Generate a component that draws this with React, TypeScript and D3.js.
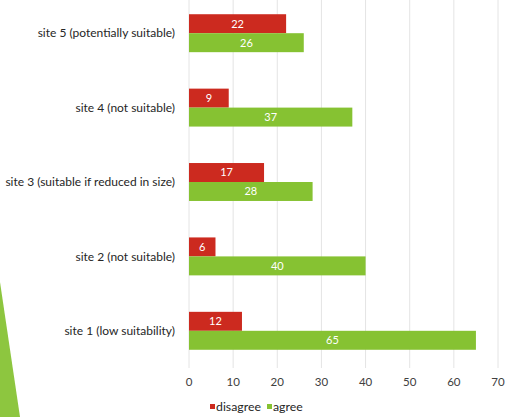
import React from 'react';
import * as d3 from 'd3';

const sites = [
  'site 5 (potentially suitable)',
  'site 4 (not suitable)',
  'site 3 (suitable if reduced in size)',
  'site 2 (not suitable)',
  'site 1 (low suitability)',
];
const series = ['disagree', 'agree'];
const disagree = [22, 9, 17, 6, 12];
const agree = [26, 37, 28, 40, 65];
const ticks = [0, 10, 20, 30, 40, 50, 60, 70];

const colors: Record<string, string> = {disagree: '#cc2a1f', agree: '#86c232'};
const font = 'Lato, "Open Sans", sans-serif';

export default function App() {
  const width = 505;
  const height = 417;

  const x = d3.scaleLinear().domain([0, 70]).range([189, 498]);
  const y = d3.scaleBand<string>()
      .domain(sites)
      .range([-4, 368])
      .paddingInner(0.49)
      .paddingOuter(0.245);
  const inner = d3.scaleBand<string>()
      .domain(series)
      .range([0, y.bandwidth()]);

  const values: Record<string, number[]> = {disagree, agree};

  return (
    <svg width={width} height={height}
      style={{position: 'absolute', left: 0, top: 0, background: '#fff'}}>
      {/* slide decoration */}
      <path d="M0,282L20,417L0,417Z" fill="#8dc63f" />

      {ticks.map((t) => (
        <line key={'g' + t} x1={x(t)} x2={x(t)} y1={0} y2={368}
          stroke="#e4e4e4" strokeWidth={1} />
      ))}

      {sites.map((s, i) => (
        <g key={s} transform={`translate(0,${y(s)})`}>
          <text x={175} y={y.bandwidth() / 2} dy="0.35em" textAnchor="end"
            fontFamily={font} fontSize={12} fill="#262626">{s}</text>
          {series.map((k) => {
            const v = values[k][i];
            const by = inner(k) as number;
            return (
              <g key={k}>
                <rect x={x(0)} y={by} width={x(v) - x(0)} height={inner.bandwidth()}
                  fill={colors[k]} />
                <text x={(x(0) + x(v)) / 2} y={by + inner.bandwidth() / 2} dy="0.35em"
                  textAnchor="middle" fontFamily={font} fontSize={11} fill="#fff">{v}</text>
              </g>
            );
          })}
        </g>
      ))}

      {ticks.map((t) => (
        <text key={'t' + t} x={x(t)} y={382} dy="0.35em" textAnchor="middle"
          fontFamily={font} fontSize={11.5} fill="#404040">{t}</text>
      ))}

      <g transform="translate(0,407)">
        <rect x={210} y={-3} width={5} height={5} fill={colors.disagree} />
        <text x={216} y={0} dy="0.35em" fontFamily={font} fontSize={12.3} fill="#262626">disagree</text>
        <rect x={267} y={-3} width={5} height={5} fill={colors.agree} />
        <text x={273} y={0} dy="0.35em" fontFamily={font} fontSize={12.3} fill="#262626">agree</text>
      </g>
    </svg>
  );
}
